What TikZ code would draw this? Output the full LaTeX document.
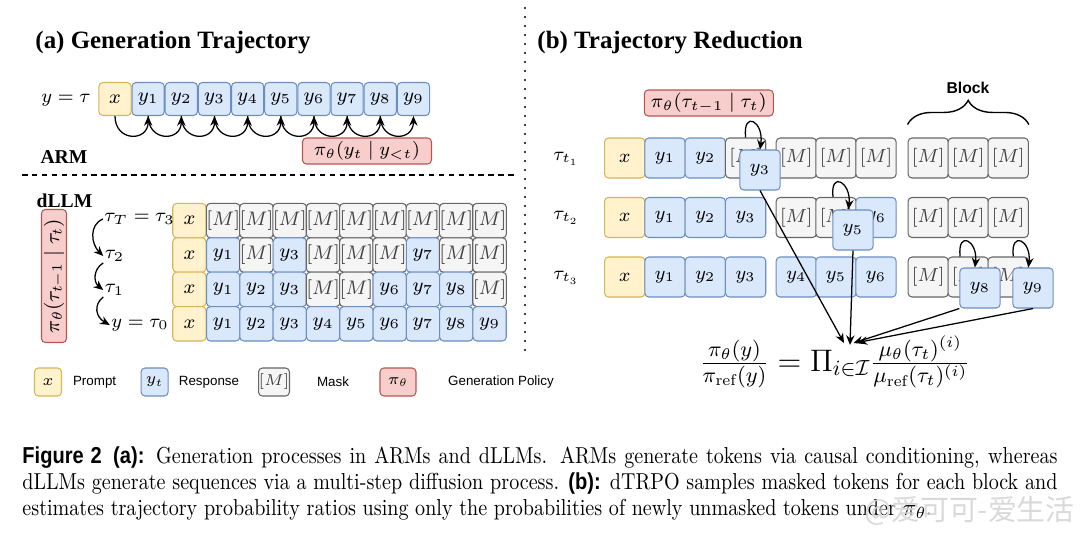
\documentclass[tikz,border=0pt]{standalone}
\usepackage{fix-cm}
\usepackage{fontspec}
\usetikzlibrary{arrows.meta,decorations.pathreplacing}
\newfontfamily\timesfont{Liberation Serif}
\newfontfamily\helvfont{Liberation Sans}
\newfontfamily\capsans{Liberation Sans}[FakeStretch=0.87]
\newfontfamily\capfont{lmroman10-regular}[Extension=.otf, FakeStretch=0.87]
\newfontfamily\cjkfont{Noto Sans CJK SC}
\definecolor{pfill}{HTML}{FFF2CC}\definecolor{pdraw}{HTML}{D6B656}
\definecolor{rfill}{HTML}{DAE8FC}\definecolor{rdraw}{HTML}{6C8EBF}
\definecolor{mfill}{HTML}{F5F5F5}\definecolor{mdraw}{HTML}{666666}
\definecolor{gfill}{HTML}{F8CECC}\definecolor{gdraw}{HTML}{B85450}
\newdimen\pxu \pxu=0.4333pt
\begin{document}
\begin{tikzpicture}[x=0.4333pt, y={(0pt,-0.4333pt)},
 box/.style={draw, rounded corners=1.7pt, inner sep=0pt, line width=0.45pt},
 pr/.style={box, fill=pfill, draw=pdraw},
 rs/.style={box, fill=rfill, draw=rdraw},
 mk/.style={box, fill=mfill, draw=mdraw, text=black!75},
 gp/.style={box, fill=gfill, draw=gdraw},
 cA/.style={minimum width=32.2\pxu, minimum height=33\pxu, font=\fontsize{8.5}{10}\selectfont},
 cD/.style={minimum width=33.3\pxu, minimum height=34.4\pxu, font=\fontsize{8.5}{10}\selectfont},
 cB/.style={minimum width=40.3\pxu, minimum height=40\pxu, font=\fontsize{8.2}{10}\selectfont},
 cL/.style={minimum width=27\pxu, minimum height=28\pxu, font=\fontsize{6.8}{8}\selectfont},
 lbl/.style={inner sep=0.5pt, font=\fontsize{8.3}{10}\selectfont},
 legt/.style={inner sep=0pt, font=\helvfont\fontsize{5.8}{7}\selectfont},
 ttl/.style={anchor=west, inner sep=0pt, font=\timesfont\bfseries\fontsize{10.8}{13}\selectfont},
 sub/.style={inner sep=0pt, font=\timesfont\bfseries\fontsize{8.5}{10}\selectfont},
 arr/.style={-{Stealth[length=4.2pt,width=3.6pt]}, line width=0.55pt},
 brc/.style={decorate, decoration={brace, amplitude=10.5pt}, line width=0.6pt}
]
\useasboundingbox (0,0) rectangle (1080,533);

% ---------- titles ----------
\node[ttl] (ta) at (35,43) {(a) Generation Trajectory};
\node[ttl] (tb) at (537,43) {(b) Trajectory Reduction};

% ---------- ARM ----------
\node[lbl] (ylab) at (66,100) {$y=\tau$};
\node[pr,cA] (a0) at (115,99) {$x$};
\foreach \i in {1,...,9} {
  \node[rs,cA] (a\i) at ({115+33.16*\i},99) {$y_{\i}$};
}
\foreach \i [evaluate=\i as \j using int(\i+1)] in {0,...,8} {
  \draw[arr] (a\i.south) .. controls +(0,26) and +(0,26) .. (a\j.south);
}
\node[gp, minimum width=129\pxu, minimum height=26\pxu, font=\fontsize{8.2}{10}\selectfont] (pa) at (367,151) {$\pi_\theta(y_t\mid y_{<t})$};
\node[sub] (arm) at (64,157) {ARM};

% separators
\draw[line width=0.5pt, dash pattern=on 2.4pt off 1.9pt] (22,175) -- (515,175);
\draw[line width=0.9pt, line cap=round, dash pattern=on 0pt off 3.9pt] (525,8) -- (525,352);

% ---------- dLLM ----------
\node[sub] (dllm) at (64.5,201) {dLLM};
\foreach \r/\row in {0/{M,M,M,M,M,M,M,M,M}, 1/{1,M,3,M,M,M,7,M,M}, 2/{1,2,3,M,M,6,7,8,M}, 3/{1,2,3,4,5,6,7,8,9}} {
  \node[pr,cD] (d\r-0) at (189.4,{220.6+34.4*\r}) {$x$};
  \foreach \c [count=\j] in \row {
    \if M\c
      \node[mk,cD] (d\r-\j) at ({223.2+33.3*(\j-1)},{220.6+34.4*\r}) {$[M]$};
    \else
      \node[rs,cD] (d\r-\j) at ({223.2+33.3*(\j-1)},{220.6+34.4*\r}) {$y_{\c}$};
    \fi
  }
}
\node[lbl] (tT) at (139.5,219) {$\tau_T=\tau_3$};
\node[lbl] (t2) at (114.5,256) {$\tau_2$};
\node[lbl] (t1) at (114.5,290) {$\tau_1$};
\node[lbl] (t0) at (140,325) {$y=\tau_0$};
\draw[arr] (tT.west) .. controls +(-14,6) and +(-12,-12) .. (t2.west);
\draw[arr] (t2.south west) .. controls +(-10,6) and +(-10,-8) .. (t1.west);
\draw[arr] (t1.south west) .. controls +(-10,8) and +(-14,-8) .. (t0.west);
\node[gp, rotate=90, minimum width=133\pxu, minimum height=25\pxu, font=\fontsize{8.8}{11}\selectfont] (pv) at (54,276) {$\pi_\theta(\tau_{t-1}\mid\tau_t)$};

% ---------- legend ----------
\node[pr,cL] (lx) at (48,382) {$x$};
\node[legt] (lpr) at (94.6,382) {Prompt};
\node[rs,cL] (ly) at (154.6,382) {$y_t$};
\node[legt] (lrs) at (209,382) {Response};
\node[mk,cL] (lm) at (274,382) {$[M]$};
\node[legt] (lmk) at (333,382) {Mask};
\node[gp,cL,minimum width=36\pxu] (lg) at (398,382) {$\pi_\theta$};
\node[legt] (lgp) at (501,382) {Generation Policy};

% ---------- (b) ----------
\node[gp, minimum width=129\pxu, minimum height=26\pxu, font=\fontsize{8.4}{10}\selectfont] (pb) at (708.8,103) {$\pi_\theta(\tau_{t-1}\mid\tau_t)$};
\node[inner sep=0pt, font=\helvfont\bfseries\fontsize{6.8}{8}\selectfont] (blk) at (968,87.5) {Block};
\node[lbl] (r1) at (566,159) {$\tau_{t_1}$};
\node[lbl] (r2) at (566,218) {$\tau_{t_2}$};
\node[lbl] (r3) at (566,278) {$\tau_{t_3}$};
\foreach \r/\yy/\row in {1/158/{x,1,2,M,M,M,M,M,M,M}, 2/217.5/{x,1,2,3,M,M,6,M,M,M}, 3/277/{x,1,2,3,4,5,6,M,M,M}} {
  \foreach \c [count=\j] in \row {
    \pgfmathsetmacro\xx{{624.7,665,705.3,745.6,796.3,836,876,928.2,968.2,1008.2}[\j-1]}
    \if x\c
      \node[pr,cB] (b\r-\j) at (\xx,\yy) {$x$};
    \else\if M\c
      \node[mk,cB] (b\r-\j) at (\xx,\yy) {$[M]$};
    \else
      \node[rs,cB] (b\r-\j) at (\xx,\yy) {$y_{\c}$};
    \fi\fi
  }
}
\draw[brc] ([yshift=5.6pt]b1-8.north west) -- ([yshift=5.6pt]b1-10.north east);

\node[rs,cB] (o3) at (760,170) {$y_3$};
\node[rs,cB] (o5) at (853,230) {$y_5$};
\node[rs,cB] (o8) at (980,288) {$y_8$};
\node[rs,cB] (o9) at (1033,288) {$y_9$};

\draw[arr] (b1-4.north) .. controls +(-3,-28) and +(4,-28) .. (o3.north);
\draw[arr] ([xshift=-1.3pt]b2-6.north) .. controls +(-3,-27) and +(3,-27) .. ([xshift=-2pt]o5.north);
\draw[arr] ([xshift=-3.5pt]b3-9.north) .. controls +(-3,-27) and +(3,-27) .. ([xshift=-2.2pt]o8.north);
\draw[arr] ([xshift=2.2pt]b3-10.north) .. controls +(-3,-27) and +(3,-27) .. ([xshift=-2pt]o9.north);

\node[inner sep=0pt, font=\fontsize{13.5}{16}\selectfont] (form) at (835,362)
  {$\frac{\pi_\theta(y)}{\pi_{\mathrm{ref}}(y)} = \Pi_{i\in\mathcal{I}}\frac{\mu_\theta(\tau_t)^{(i)}}{\mu_{\mathrm{ref}}(\tau_t)^{(i)}}$};
\coordinate (e3) at (844,343);
\coordinate (e5) at (850,345);
\coordinate (e8) at (853.5,343);
\coordinate (e9) at (857.5,342.5);
\draw[arr] (o3.south) -- (e3);
\draw[arr] (o5.south) -- (e5);
\draw[arr] (o8.south west) -- (e8);
\draw[arr] (o9.south) -- (e9);

% ---------- caption ----------
\node[anchor=north west, inner sep=0pt, text width=448.5pt, align=justify, font=\capfont\fontsize{10}{11.27}\selectfont] (cap) at (22,446)
 {\hyphenpenalty=10000 {\capsans\bfseries Figure 2\enspace(a):} Generation processes in ARMs and dLLMs. ARMs generate tokens via causal conditioning, whereas dLLMs generate sequences via a multi-step diffusion process. {\capsans\bfseries(b):} dTRPO samples masked tokens for each block and estimates trajectory probability ratios using only the probabilities of newly unmasked tokens under $\pi_\theta$.};
\node[anchor=east, inner sep=0pt, text=gray!35, opacity=0.85, font=\cjkfont\fontsize{12.5}{14}\selectfont] (wm) at (1075,511) {@爱可可-爱生活};
\end{tikzpicture}
\end{document}
